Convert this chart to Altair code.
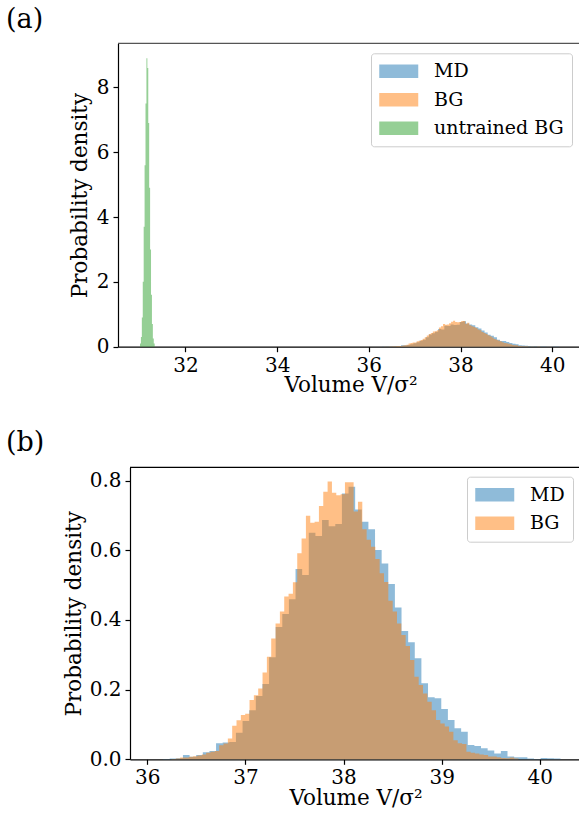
import altair as alt
import pandas as pd

# ---------------- data ----------------
md_start, md_width = 36.026, 0.0675
md_heights = [0.0005, 0.0005, 0.001, 0.002, 0.003, 0.012, 0.007, 0.012, 0.020, 0.024,
              0.046, 0.048, 0.050, 0.076, 0.110, 0.141, 0.182, 0.216, 0.293, 0.380,
              0.417, 0.459, 0.546, 0.529, 0.650, 0.641, 0.687, 0.669, 0.675, 0.763,
              0.782, 0.717, 0.682, 0.660, 0.601, 0.562, 0.503, 0.436, 0.368, 0.336,
              0.290, 0.218, 0.178, 0.175, 0.144, 0.113, 0.089, 0.079, 0.041, 0.038,
              0.032, 0.025, 0.017, 0.024, 0.008, 0.006, 0.006, 0.002, 0.001, 0.004,
              0.003, 0.002]

bg_start, bg_width = 36.2465, 0.0442
bg_heights = [0.001, 0.002, 0.005, 0.005, 0.007, 0.009, 0.011, 0.014, 0.019, 0.022,
              0.024, 0.040, 0.045, 0.060, 0.096, 0.112, 0.127, 0.131, 0.170, 0.184,
              0.203, 0.249, 0.294, 0.347, 0.390, 0.424, 0.467, 0.475, 0.508, 0.591,
              0.634, 0.699, 0.679, 0.682, 0.727, 0.768, 0.797, 0.765, 0.758, 0.761,
              0.795, 0.795, 0.711, 0.739, 0.660, 0.630, 0.610, 0.575, 0.534, 0.509,
              0.455, 0.424, 0.390, 0.357, 0.325, 0.285, 0.237, 0.213, 0.189, 0.165,
              0.141, 0.113, 0.103, 0.094, 0.079, 0.055, 0.046, 0.044, 0.022, 0.019,
              0.017, 0.014, 0.012, 0.008, 0.008, 0.006, 0.004, 0.003, 0.005, 0.002]

ub_start, ub_width = 31.01, 0.02
ub_heights = [0.1, 0.3, 0.9, 2.0, 3.7, 5.6, 7.5, 8.9, 8.6, 6.9, 4.9, 3.0, 1.6, 0.7, 0.25, 0.1]

series_names = ["MD", "BG", "untrained BG"]
series_colors = ["#1f77b4", "#ff7f0e", "#2ca02c"]

a_xticks = [32, 34, 36, 38, 40]
a_yticks = [0, 2, 4, 6, 8]
b_xticks = [36, 37, 38, 39, 40]
b_yticks = [0.0, 0.2, 0.4, 0.6, 0.8]

x_title = "Volume V/σ²"
y_title = "Probability density"


def steps(name, start, width, heights):
    edges = [start + i * width for i in range(len(heights) + 1)]
    return pd.DataFrame({"x": edges, "y": list(heights) + [0.0], "series": name})


md_df = steps("MD", md_start, md_width, md_heights)
bg_df = steps("BG", bg_start, bg_width, bg_heights)
ub_df = steps("untrained BG", ub_start, ub_width, ub_heights)

# ---------------- layout / style ----------------
FONT = "DejaVu Serif"
TICK_FS = 20
TITLE_FS = 21.5
LEG_FS = 19
W, H = 579, 814
A_XR, A_YR = [118, 583], [346.7, 43.3]
B_XR, B_YR = [130, 581], [759.3, 467.3]

legend_symbol = "M-1,-0.7H3V0.7H-1Z"


def panel(dfs, xdom, xr, ydom, yr, xt, yt, yfmt, names, legx, legy, ytitle_x):
    xs = alt.Scale(domain=xdom, range=xr, nice=False, zero=False)
    ys = alt.Scale(domain=ydom, range=yr, nice=False, zero=False)
    cs = alt.Scale(domain=names, range=series_colors[:len(names)])
    common = dict(labelFont=FONT, titleFont=FONT, labelFontSize=TICK_FS,
                  titleFontSize=TITLE_FS, titleFontWeight="normal",
                  labelColor="black", titleColor="black", labelFlush=False,
                  labelOverlap=False, grid=False)
    xaxis = alt.Axis(orient="bottom", offset=yr[0] - H, values=xt, format="d",
                     title=x_title, titleBaseline="alphabetic", titleY=45,
                     titleX=(xr[0] + xr[1]) / 2, titleAlign="center",
                     labelPadding=3.5, **common)
    yaxis = alt.Axis(orient="left", offset=-xr[0], values=yt, format=yfmt,
                     title=y_title, titleAngle=270, titleBaseline="alphabetic",
                     titleAlign="center", titleY=(yr[0] + yr[1]) / 2,
                     titleX=ytitle_x, **common)
    legend = alt.Legend(orient="none", legendX=legx, legendY=legy, title=None,
                        direction="vertical", fillColor="white", strokeColor="#cccccc",
                        cornerRadius=3, padding=8, labelFont=FONT, labelFontSize=LEG_FS,
                        labelColor="black", labelOffset=35, rowPadding=8.5,
                        symbolType=legend_symbol, symbolSize=380, symbolOpacity=0.5,
                        symbolStrokeWidth=0)
    layers = []
    for df in dfs:
        layers.append(
            alt.Chart(df).mark_area(interpolate="step-after", opacity=0.5).encode(
                x=alt.X("x:Q", scale=xs, axis=xaxis),
                y=alt.Y("y:Q", scale=ys, axis=yaxis),
                color=alt.Color("series:N", scale=cs, legend=legend),
            )
        )
    return alt.layer(*layers)


panel_a = panel([md_df, bg_df, ub_df], [30.53, 40.67], A_XR, [0, 9.36], A_YR,
                a_xticks, a_yticks, "d", series_names, 371, 53.3, -32)
panel_b = panel([md_df, bg_df], [35.824, 40.42], B_XR, [0, 0.838], B_YR,
                b_xticks, b_yticks, ".1f", series_names[:2], 467, 476.7, -50)

one = pd.DataFrame({"k": [0]})
spine_a = alt.Chart(one).mark_rule(color="#555555", strokeWidth=1.2).encode(
    x=alt.value(A_XR[0]), x2=alt.value(A_XR[1]), y=alt.value(A_YR[1]))
spine_b = alt.Chart(one).mark_rule(color="black", strokeWidth=1.2).encode(
    x=alt.value(B_XR[0]), x2=alt.value(B_XR[1]), y=alt.value(B_YR[1]))

tags = pd.DataFrame({"t": ["(a)", "(b)"], "px": [6, 6], "py": [28, 451]})
tag_marks = alt.Chart(tags).mark_text(font=FONT, fontSize=27, align="left",
                                      baseline="alphabetic", color="black").encode(
    x=alt.X("px:Q", scale=None), y=alt.Y("py:Q", scale=None), text="t:N")

chart = alt.layer(panel_a, panel_b, spine_a, spine_b, tag_marks).resolve_scale(
    x="independent", y="independent", color="independent"
).properties(
    width=W, height=H, padding=0, autosize=alt.AutoSizeParams(type="none"),
    background="white"
).configure_view(stroke=None).configure_axis(
    domainColor="black", domainWidth=1.2, tickColor="black", tickWidth=1.2,
    tickSize=5, labelPadding=4, labelColor="black", titleColor="black",
    labelFont=FONT, titleFont=FONT, labelFontSize=TICK_FS, titleFontSize=TITLE_FS,
    titleFontWeight="normal", grid=False, labelOverlap=False
).configure_text(font=FONT)

chart.save("out.html", embed_options={"renderer": "svg", "actions": False})
